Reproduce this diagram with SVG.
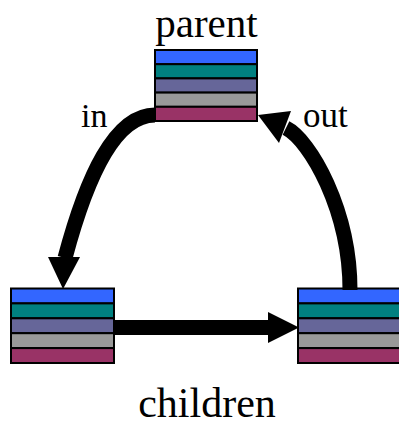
<svg xmlns="http://www.w3.org/2000/svg" width="399" height="426" viewBox="0 0 399 426">
<style>
.row{stroke:#000;stroke-width:2}
.r1{fill:#3366ff}.r2{fill:#008080}.r3{fill:#666699}.r4{fill:#999999}.r5{fill:#993366}
.lbl{font-family:"Liberation Serif","Times New Roman",serif;fill:#000}
.shaft{fill:none;stroke:#000;stroke-width:15}
.head{fill:#000}
</style>
<rect width="399" height="426" fill="#fff"/>
<g id="parent">
<rect class="row r1" x="155" y="50" width="102" height="14.2"/>
<rect class="row r2" x="155" y="64.2" width="102" height="14.2"/>
<rect class="row r3" x="155" y="78.4" width="102" height="14.2"/>
<rect class="row r4" x="155" y="92.6" width="102" height="14.2"/>
<rect class="row r5" x="155" y="106.8" width="102" height="14.2"/>
<text class="lbl" x="206.5" y="37" font-size="41" text-anchor="middle">parent</text>
</g>
<g id="child-left">
<rect class="row r1" x="11" y="288.5" width="103" height="14.9"/>
<rect class="row r2" x="11" y="303.4" width="103" height="14.9"/>
<rect class="row r3" x="11" y="318.3" width="103" height="14.9"/>
<rect class="row r4" x="11" y="333.2" width="103" height="14.9"/>
<rect class="row r5" x="11" y="348.1" width="103" height="14.9"/>
</g>
<g id="child-right">
<rect class="row r1" x="298" y="288.5" width="103" height="14.9"/>
<rect class="row r2" x="298" y="303.4" width="103" height="14.9"/>
<rect class="row r3" x="298" y="318.3" width="103" height="14.9"/>
<rect class="row r4" x="298" y="333.2" width="103" height="14.9"/>
<rect class="row r5" x="298" y="348.1" width="103" height="14.9"/>
</g>
<text id="children-label" class="lbl" x="207" y="416.5" font-size="42" text-anchor="middle">children</text>
<g id="connectors">
<path class="shaft" d="M155,115 C115,115 86.6,177 65,258"/>
<polygon class="head" points="48,257 80,257 63,289"/>
<text class="lbl" x="81" y="127" font-size="34">in</text>
<path class="shaft" d="M350,290 C350,210 310,140 286,128"/>
<polygon class="head" points="291,111 279,143 258,115"/>
<text class="lbl" x="303" y="127" font-size="35">out</text>
<path class="shaft" d="M114,327.5 H270"/>
<polygon class="head" points="268,312 268,343 299,327.5"/>
</g>
</svg>
